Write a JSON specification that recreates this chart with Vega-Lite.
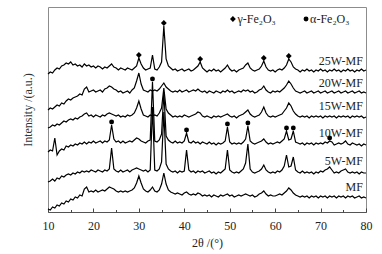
{
"$schema":"https://vega.github.io/schema/vega-lite/v6.json",
"width":318,"height":205,
"autosize":{"type":"none"},
"padding":{"left":48,"top":7,"right":16,"bottom":42},
"config":{"view":{"stroke":"#8c8c8c","strokeWidth":1},"font":"Liberation Serif"},
"datasets":{
"xrd":[
{"t":10,"a":138,"b":102,"c":84,"d":60,"e":30,"f":3},
{"t":10.5,"a":140,"b":104,"c":85,"d":62,"e":31,"f":2},
{"t":11,"a":139,"b":103,"c":87,"d":61,"e":33,"f":5},
{"t":11.5,"a":142,"b":105,"c":86,"d":74,"e":31,"f":4},
{"t":12,"a":144,"b":107,"c":88,"d":57,"e":34,"f":7},
{"t":12.5,"a":143,"b":106,"c":87,"d":61,"e":33,"f":6},
{"t":13,"a":146,"b":109,"c":89,"d":63,"e":36,"f":9},
{"t":13.5,"a":147,"b":108,"c":91,"d":62,"e":35,"f":8},
{"t":14,"a":149,"b":111,"c":90,"d":66,"e":37,"f":11},
{"t":14.5,"a":148,"b":113,"c":92,"d":65,"e":38,"f":10},
{"t":15,"a":150,"b":112,"c":93,"d":67,"e":37,"f":13},
{"t":15.5,"a":147,"b":114,"c":92,"d":66,"e":39,"f":12},
{"t":16,"a":148,"b":115,"c":94,"d":68,"e":38,"f":15},
{"t":16.5,"a":146,"b":116,"c":93,"d":67,"e":40,"f":14},
{"t":17,"a":147,"b":118,"c":95,"d":69,"e":39,"f":17},
{"t":17.5,"a":145,"b":117,"c":96,"d":68,"e":41,"f":16},
{"t":18,"a":148,"b":123,"c":98,"d":70,"e":40,"f":23},
{"t":18.5,"a":146,"b":125,"c":99,"d":68,"e":41,"f":25},
{"t":19,"a":147,"b":120,"c":96,"d":70,"e":40,"f":20},
{"t":19.5,"a":145,"b":121,"c":97,"d":69,"e":42,"f":21},
{"t":20,"a":146,"b":122,"c":95,"d":71,"e":41,"f":20},
{"t":20.5,"a":144,"b":120,"c":97,"d":69,"e":40,"f":22},
{"t":21,"a":146,"b":121,"c":96,"d":70,"e":42,"f":20},
{"t":21.5,"a":145,"b":122,"c":95,"d":71,"e":41,"f":21},
{"t":22,"a":143,"b":120,"c":97,"d":69,"e":40,"f":22},
{"t":22.5,"a":145,"b":123,"c":96,"d":71,"e":42,"f":21},
{"t":23,"a":144,"b":124,"c":98,"d":70,"e":41,"f":23},
{"t":23.5,"a":146,"b":126,"c":99,"d":72,"e":43,"f":25},
{"t":24,"a":148,"b":125,"c":98,"d":87,"e":64,"f":24},
{"t":24.5,"a":145,"b":123,"c":97,"d":73,"e":43,"f":23},
{"t":25,"a":144,"b":122,"c":96,"d":70,"e":41,"f":21},
{"t":25.5,"a":142,"b":120,"c":97,"d":71,"e":40,"f":20},
{"t":26,"a":144,"b":121,"c":95,"d":69,"e":42,"f":21},
{"t":26.5,"a":143,"b":119,"c":96,"d":71,"e":40,"f":20},
{"t":27,"a":142,"b":120,"c":95,"d":69,"e":41,"f":21},
{"t":27.5,"a":144,"b":121,"c":97,"d":70,"e":42,"f":20},
{"t":28,"a":143,"b":119,"c":96,"d":71,"e":40,"f":21},
{"t":28.5,"a":142,"b":122,"c":97,"d":70,"e":42,"f":22},
{"t":29,"a":144,"b":124,"c":99,"d":72,"e":43,"f":24},
{"t":29.5,"a":146,"b":131,"c":104,"d":74,"e":44,"f":29},
{"t":30,"a":154,"b":139,"c":111,"d":73,"e":43,"f":36},
{"t":30.5,"a":148,"b":128,"c":103,"d":71,"e":42,"f":29},
{"t":31,"a":144,"b":122,"c":97,"d":70,"e":41,"f":23},
{"t":31.5,"a":142,"b":121,"c":96,"d":69,"e":42,"f":21},
{"t":32,"a":143,"b":120,"c":95,"d":71,"e":40,"f":20},
{"t":32.5,"a":144,"b":122,"c":97,"d":72,"e":42,"f":22},
{"t":33,"a":157,"b":121,"c":96,"d":130,"e":105,"f":25},
{"t":33.5,"a":143,"b":122,"c":97,"d":71,"e":42,"f":21},
{"t":34,"a":142,"b":121,"c":96,"d":70,"e":41,"f":20},
{"t":34.5,"a":145,"b":123,"c":99,"d":72,"e":43,"f":22},
{"t":35,"a":150,"b":126,"c":104,"d":78,"e":50,"f":28},
{"t":35.5,"a":186,"b":129,"c":124,"d":120,"e":100,"f":39},
{"t":36,"a":153,"b":125,"c":103,"d":76,"e":48,"f":28},
{"t":36.5,"a":146,"b":123,"c":99,"d":72,"e":43,"f":22},
{"t":37,"a":144,"b":121,"c":97,"d":70,"e":41,"f":20},
{"t":37.5,"a":142,"b":120,"c":95,"d":69,"e":40,"f":19},
{"t":38,"a":143,"b":121,"c":96,"d":71,"e":41,"f":18},
{"t":38.5,"a":141,"b":120,"c":95,"d":69,"e":39,"f":19},
{"t":39,"a":142,"b":122,"c":96,"d":70,"e":41,"f":18},
{"t":39.5,"a":143,"b":120,"c":95,"d":69,"e":40,"f":17},
{"t":40,"a":141,"b":121,"c":97,"d":71,"e":41,"f":19},
{"t":40.5,"a":142,"b":122,"c":96,"d":79,"e":62,"f":20},
{"t":41,"a":143,"b":120,"c":95,"d":70,"e":42,"f":18},
{"t":41.5,"a":141,"b":121,"c":96,"d":69,"e":40,"f":17},
{"t":42,"a":142,"b":122,"c":97,"d":71,"e":41,"f":18},
{"t":42.5,"a":144,"b":121,"c":98,"d":69,"e":39,"f":17},
{"t":43,"a":146,"b":123,"c":100,"d":70,"e":41,"f":19},
{"t":43.5,"a":150,"b":121,"c":99,"d":68,"e":40,"f":18},
{"t":44,"a":144,"b":120,"c":96,"d":70,"e":41,"f":16},
{"t":44.5,"a":142,"b":121,"c":95,"d":69,"e":39,"f":17},
{"t":45,"a":140,"b":119,"c":96,"d":68,"e":40,"f":16},
{"t":45.5,"a":142,"b":121,"c":95,"d":70,"e":41,"f":17},
{"t":46,"a":141,"b":120,"c":94,"d":68,"e":39,"f":15},
{"t":46.5,"a":143,"b":119,"c":96,"d":69,"e":40,"f":17},
{"t":47,"a":141,"b":121,"c":95,"d":67,"e":38,"f":16},
{"t":47.5,"a":142,"b":120,"c":96,"d":69,"e":40,"f":15},
{"t":48,"a":140,"b":119,"c":95,"d":68,"e":39,"f":17},
{"t":48.5,"a":142,"b":121,"c":96,"d":69,"e":41,"f":16},
{"t":49,"a":144,"b":120,"c":97,"d":71,"e":43,"f":17},
{"t":49.5,"a":147,"b":122,"c":98,"d":85,"e":62,"f":18},
{"t":50,"a":143,"b":120,"c":96,"d":70,"e":42,"f":16},
{"t":50.5,"a":141,"b":121,"c":95,"d":68,"e":40,"f":17},
{"t":51,"a":142,"b":119,"c":96,"d":69,"e":39,"f":15},
{"t":51.5,"a":140,"b":120,"c":94,"d":68,"e":40,"f":16},
{"t":52,"a":142,"b":121,"c":96,"d":69,"e":39,"f":17},
{"t":52.5,"a":143,"b":120,"c":97,"d":68,"e":41,"f":16},
{"t":53,"a":144,"b":122,"c":98,"d":70,"e":43,"f":17},
{"t":53.5,"a":147,"b":121,"c":100,"d":73,"e":49,"f":18},
{"t":54,"a":149,"b":122,"c":102,"d":86,"e":68,"f":17},
{"t":54.5,"a":144,"b":120,"c":98,"d":71,"e":43,"f":16},
{"t":55,"a":142,"b":121,"c":96,"d":69,"e":40,"f":17},
{"t":55.5,"a":141,"b":119,"c":95,"d":68,"e":39,"f":15},
{"t":56,"a":142,"b":120,"c":96,"d":69,"e":40,"f":16},
{"t":56.5,"a":143,"b":122,"c":97,"d":70,"e":41,"f":18},
{"t":57,"a":146,"b":123,"c":100,"d":71,"e":43,"f":19},
{"t":57.5,"a":151,"b":126,"c":105,"d":73,"e":47,"f":21},
{"t":58,"a":145,"b":122,"c":99,"d":70,"e":42,"f":18},
{"t":58.5,"a":142,"b":120,"c":96,"d":68,"e":40,"f":16},
{"t":59,"a":141,"b":119,"c":95,"d":69,"e":39,"f":17},
{"t":59.5,"a":142,"b":121,"c":96,"d":68,"e":40,"f":16},
{"t":60,"a":140,"b":120,"c":95,"d":69,"e":39,"f":16},
{"t":60.5,"a":142,"b":121,"c":96,"d":70,"e":41,"f":17},
{"t":61,"a":143,"b":120,"c":97,"d":69,"e":40,"f":18},
{"t":61.5,"a":142,"b":122,"c":98,"d":71,"e":42,"f":17},
{"t":62,"a":144,"b":124,"c":101,"d":73,"e":46,"f":19},
{"t":62.5,"a":147,"b":127,"c":104,"d":81,"e":57,"f":21},
{"t":63,"a":153,"b":131,"c":109,"d":72,"e":45,"f":24},
{"t":63.5,"a":150,"b":128,"c":106,"d":73,"e":46,"f":22},
{"t":64,"a":145,"b":124,"c":101,"d":81,"e":55,"f":19},
{"t":64.5,"a":143,"b":121,"c":98,"d":70,"e":42,"f":17},
{"t":65,"a":142,"b":120,"c":96,"d":69,"e":40,"f":16},
{"t":65.5,"a":140,"b":119,"c":95,"d":68,"e":39,"f":15},
{"t":66,"a":142,"b":120,"c":96,"d":69,"e":41,"f":16},
{"t":66.5,"a":141,"b":121,"c":95,"d":67,"e":39,"f":15},
{"t":67,"a":143,"b":119,"c":96,"d":69,"e":40,"f":16},
{"t":67.5,"a":141,"b":120,"c":94,"d":68,"e":39,"f":14},
{"t":68,"a":142,"b":121,"c":96,"d":69,"e":40,"f":16},
{"t":68.5,"a":140,"b":119,"c":95,"d":67,"e":38,"f":15},
{"t":69,"a":142,"b":120,"c":96,"d":69,"e":40,"f":16},
{"t":69.5,"a":141,"b":121,"c":95,"d":68,"e":39,"f":14},
{"t":70,"a":143,"b":119,"c":96,"d":69,"e":41,"f":16},
{"t":70.5,"a":141,"b":120,"c":94,"d":68,"e":40,"f":15},
{"t":71,"a":142,"b":121,"c":96,"d":70,"e":42,"f":16},
{"t":71.5,"a":140,"b":119,"c":95,"d":69,"e":43,"f":14},
{"t":72,"a":142,"b":120,"c":96,"d":71,"e":45,"f":16},
{"t":72.5,"a":141,"b":121,"c":95,"d":70,"e":42,"f":15},
{"t":73,"a":143,"b":119,"c":96,"d":67,"e":39,"f":16},
{"t":73.5,"a":141,"b":120,"c":94,"d":68,"e":40,"f":14},
{"t":74,"a":142,"b":121,"c":96,"d":69,"e":39,"f":16},
{"t":74.5,"a":140,"b":119,"c":95,"d":68,"e":41,"f":15},
{"t":75,"a":142,"b":120,"c":96,"d":69,"e":42,"f":16},
{"t":75.5,"a":141,"b":121,"c":95,"d":71,"e":43,"f":14},
{"t":76,"a":143,"b":119,"c":96,"d":68,"e":40,"f":16},
{"t":76.5,"a":141,"b":120,"c":94,"d":67,"e":39,"f":15},
{"t":77,"a":142,"b":121,"c":96,"d":69,"e":40,"f":16},
{"t":77.5,"a":140,"b":119,"c":95,"d":68,"e":39,"f":14},
{"t":78,"a":142,"b":120,"c":96,"d":67,"e":40,"f":15},
{"t":78.5,"a":141,"b":121,"c":95,"d":68,"e":38,"f":16},
{"t":79,"a":143,"b":119,"c":96,"d":66,"e":40,"f":14},
{"t":79.5,"a":141,"b":120,"c":94,"d":68,"e":39,"f":15},
{"t":80,"a":142,"b":119,"c":95,"d":67,"e":39,"f":14}
],
"marks":[
{"x":30,"y":157,"k":"g"},{"x":35.5,"y":189,"k":"g"},{"x":43.5,"y":153,"k":"g"},{"x":57.5,"y":154,"k":"g"},{"x":63,"y":156,"k":"g"},
{"x":24,"y":90,"k":"a"},{"x":33,"y":133,"k":"a"},{"x":40.5,"y":82,"k":"a"},{"x":49.5,"y":88,"k":"a"},{"x":54,"y":89,"k":"a"},{"x":62.5,"y":84,"k":"a"},{"x":64,"y":84,"k":"a"},{"x":72,"y":74,"k":"a"},
{"x":50.7,"y":193,"k":"g"},{"x":66.8,"y":193,"k":"a"}
],
"labels":[
{"x":79.3,"y":151,"label":"25W-MF"},{"x":79.3,"y":129,"label":"20W-MF"},{"x":79.3,"y":106,"label":"15W-MF"},
{"x":79.3,"y":79,"label":"10W-MF"},{"x":79.3,"y":51,"label":"5W-MF"},{"x":79.3,"y":25,"label":"MF"}
],
"legend":[
{"x":51.7,"y":193,"label":"γ-Fe₂O₃"},{"x":67.7,"y":193,"label":"α-Fe₂O₃"}
]
},
"layer":[
{"data":{"name":"xrd"},
 "transform":[{"fold":["a","b","c","d","e","f"],"as":["s","v"]}],
 "mark":{"type":"line","color":"#000","strokeWidth":1.2},
 "encoding":{
  "x":{"field":"t","type":"quantitative","scale":{"domain":[10,80],"nice":false,"zero":false},
       "axis":{"values":[10,20,30,40,50,60,70,80],"title":"2θ /(°)","titleFontSize":12,"titleFontWeight":"normal","titleColor":"#222","titlePadding":6,
               "labelFontSize":12,"labelColor":"#222","labelPadding":12,"tickSize":-4,"tickColor":"#444","domainColor":"#555","grid":false,"labelFlush":false}},
  "y":{"field":"v","type":"quantitative","scale":{"domain":[0,205],"nice":false,"zero":false},
       "axis":{"orient":"left","title":"Intensity /(a.u.)","titleFontSize":12,"titleFontWeight":"normal","titleColor":"#333","titlePadding":14,"labels":false,"ticks":false,"domain":false,"grid":false}},
  "detail":{"field":"s","type":"nominal"}
 }},
{"data":{"name":"marks"},
 "mark":{"type":"point","filled":true,"color":"#000","opacity":1},
 "encoding":{
  "x":{"field":"x","type":"quantitative","axis":{"values":[15,25,35,45,55,65,75],"orient":"bottom","labels":false,"title":null,"domain":false,"grid":false,"tickSize":-2.5,"tickColor":"#444"}},
  "y":{"field":"y","type":"quantitative","axis":null},
  "shape":{"field":"k","type":"nominal","scale":{"domain":["g","a"],"range":["diamond","circle"]},"legend":null},
  "size":{"field":"k","type":"nominal","scale":{"domain":["g","a"],"range":[34,24]},"legend":null}
 }},
{"data":{"name":"labels"},
 "mark":{"type":"text","align":"right","baseline":"middle","fontSize":12,"color":"#222"},
 "encoding":{
  "x":{"field":"x","type":"quantitative","axis":null},
  "y":{"field":"y","type":"quantitative","axis":null},
  "text":{"field":"label"}
 }},
{"data":{"name":"legend"},
 "mark":{"type":"text","align":"left","baseline":"middle","fontSize":12,"color":"#222"},
 "encoding":{
  "x":{"field":"x","type":"quantitative","axis":null},
  "y":{"field":"y","type":"quantitative","axis":null},
  "text":{"field":"label"}
 }}
],
"resolve":{"axis":{"x":"independent","y":"independent"}}
}
